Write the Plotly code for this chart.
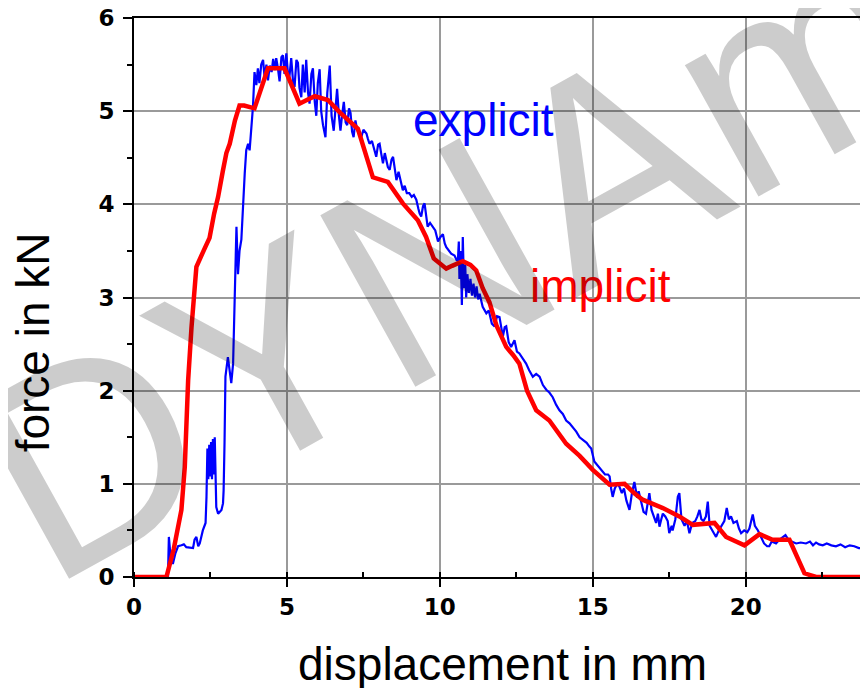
import plotly.graph_objects as go

# explicit (blue) curve: displacement [mm], force [kN]
explicit_x = [1.11, 1.14, 1.20, 1.27, 1.35, 1.44, 1.55, 1.63, 1.71, 1.85, 1.93, 1.98, 2.04, 2.10, 2.15, 2.25, 2.34, 2.37,
              2.40, 2.43, 2.46, 2.49, 2.52, 2.55, 2.58, 2.61, 2.64, 2.67, 2.69, 2.75, 2.80, 2.86, 2.91, 2.93, 2.96, 2.99,
              3.07, 3.12, 3.18, 3.24, 3.29, 3.33, 3.35, 3.40, 3.45, 3.51, 3.56, 3.62, 3.67, 3.73, 3.78, 3.84, 3.89, 3.94,
              4.00, 4.05, 4.10, 4.16, 4.22, 4.27, 4.33, 4.38, 4.44, 4.50, 4.55, 4.60, 4.65, 4.71, 4.76, 4.82, 4.87, 4.92,
              4.98, 5.03, 5.07, 5.14, 5.20, 5.25, 5.31, 5.36, 5.41, 5.47, 5.52, 5.58, 5.63, 5.69, 5.74, 5.80, 5.85, 5.91,
              5.96, 6.01, 6.07, 6.12, 6.18, 6.26, 6.32, 6.40, 6.46, 6.53, 6.58, 6.64, 6.70, 6.75, 6.80, 6.86, 6.92, 6.97,
              7.03, 7.08, 7.13, 7.18, 7.24, 7.29, 7.36, 7.43, 7.50, 7.60, 7.65, 7.70, 7.78, 7.85, 7.92, 7.98, 8.03, 8.08,
              8.14, 8.20, 8.25, 8.30, 8.36, 8.42, 8.47, 8.52, 8.58, 8.65, 8.72, 8.79, 8.85, 8.92, 9.00, 9.08, 9.15, 9.23,
              9.30, 9.34, 9.39, 9.45, 9.50, 9.55, 9.60, 9.68, 9.77, 9.85, 9.94, 10.02, 10.10, 10.16, 10.21, 10.30, 10.37,
              10.48, 10.55, 10.59, 10.62, 10.64, 10.68, 10.72, 10.75, 10.79, 10.83, 10.86, 10.90, 10.95, 11.00, 11.05,
              11.10, 11.15, 11.20, 11.25, 11.30, 11.40, 11.52, 11.60, 11.70, 11.79, 11.87, 11.95, 12.06, 12.12, 12.17,
              12.25, 12.33, 12.44, 12.52, 12.60, 12.70, 12.82, 12.92, 13.04, 13.15, 13.26, 13.37, 13.48, 13.58, 13.69,
              13.80, 13.91, 14.02, 14.13, 14.24, 14.35, 14.46, 14.57, 14.70, 14.80, 14.89, 14.95, 15.05, 15.15, 15.27,
              15.40, 15.50, 15.55, 15.60, 15.65, 15.72, 15.80, 15.87, 15.95, 16.02, 16.10, 16.20, 16.28, 16.36, 16.45,
              16.50, 16.58, 16.66, 16.74, 16.80, 16.85, 16.92, 17.00, 17.07, 17.13, 17.18, 17.24, 17.29, 17.37, 17.45,
              17.50, 17.58, 17.61, 17.70, 17.78, 17.83, 17.90, 18.00, 18.08, 18.16, 18.25, 18.35, 18.42, 18.49, 18.55,
              18.62, 18.70, 18.76, 18.82, 18.90, 18.96, 19.03, 19.12, 19.20, 19.30, 19.38, 19.45, 19.52, 19.60, 19.71,
              19.78, 19.85, 19.95, 20.05, 20.12, 20.23, 20.30, 20.40, 20.50, 20.60, 20.70, 20.77, 20.85, 20.99, 21.10,
              21.21, 21.30, 21.40, 21.50, 21.65, 21.80, 21.97, 22.10, 22.20, 22.30, 22.40, 22.52, 22.65, 22.80, 22.95,
              23.10, 23.25, 23.40, 23.55, 23.70, 23.82, 23.95, 24.10, 24.30]
explicit_y = [0.00, 0.43, 0.20, 0.14, 0.25, 0.33, 0.34, 0.35, 0.32, 0.31, 0.31, 0.40, 0.43, 0.33, 0.36, 0.50, 0.58, 0.86,
              1.38, 1.05, 1.42, 1.08, 1.45, 1.05, 1.48, 1.10, 1.50, 1.05, 0.75, 0.68, 0.70, 0.72, 0.79, 0.93, 1.44, 2.15,
              2.36, 2.25, 2.08, 2.29, 2.90, 3.40, 3.76, 3.25, 3.50, 3.62, 4.01, 4.33, 4.58, 4.65, 4.58, 4.80, 5.05, 5.42,
              5.28, 5.46, 5.30, 5.50, 5.55, 5.36, 5.50, 5.33, 5.49, 5.42, 5.56, 5.44, 5.57, 5.45, 5.32, 5.58, 5.60, 5.40,
              5.62, 5.42, 5.33, 5.57, 5.32, 5.26, 5.55, 5.52, 5.25, 5.15, 5.50, 5.20, 5.55, 5.20, 5.08, 5.40, 5.46, 5.10,
              4.95, 5.30, 5.45, 5.00, 4.85, 4.72, 5.20, 5.49, 4.95, 4.79, 5.00, 5.24, 4.95, 4.79, 4.95, 5.10, 4.88, 4.85,
              5.03, 4.98, 4.78, 4.72, 4.90, 4.81, 4.75, 4.72, 4.80, 4.76, 4.70, 4.65, 4.68, 4.60, 4.51, 4.64, 4.65, 4.55,
              4.44, 4.55, 4.48, 4.40, 4.37, 4.48, 4.51, 4.38, 4.26, 4.35, 4.25, 4.15, 4.20, 4.12, 4.12, 4.08, 4.10, 4.05,
              3.95, 3.90, 3.87, 3.98, 4.01, 3.85, 3.76, 3.80, 3.76, 3.72, 3.60, 3.65, 3.68, 3.58, 3.54, 3.50, 3.47,
              3.45, 3.40, 3.40, 3.60, 3.20, 3.50, 2.92, 3.65, 3.10, 3.35, 3.00, 3.25, 3.05, 3.20, 3.02,
              3.15, 3.00, 3.12, 2.98, 3.04, 2.90, 2.83, 2.86, 2.72, 2.69, 2.80, 2.79, 2.58, 2.68, 2.69,
              2.52, 2.47, 2.54, 2.42, 2.40, 2.35, 2.29, 2.22, 2.15, 2.18, 2.15, 2.06, 2.01, 1.98, 1.93,
              1.85, 1.79, 1.75, 1.68, 1.65, 1.61, 1.56, 1.50, 1.46, 1.44, 1.40, 1.38, 1.24, 1.20, 1.15,
              1.10, 1.10, 1.08, 0.95, 0.86, 0.95, 1.00, 0.97, 0.90, 0.95, 0.82, 0.72, 0.90, 1.02, 0.85,
              0.92, 0.79, 0.70, 0.68, 0.80, 0.90, 0.72, 0.65, 0.58, 0.68, 0.54, 0.62, 0.68, 0.65, 0.60,
              0.47, 0.55, 0.50, 0.62, 0.86, 0.90, 0.62, 0.55, 0.60, 0.47, 0.58, 0.60, 0.65, 0.72, 0.62,
              0.60, 0.65, 0.81, 0.55, 0.50, 0.47, 0.43, 0.50, 0.55, 0.60, 0.74, 0.62, 0.65, 0.58, 0.60,
              0.52, 0.47, 0.50, 0.48, 0.52, 0.67, 0.55, 0.50, 0.42, 0.36, 0.33, 0.33, 0.38, 0.36, 0.40,
              0.43, 0.45, 0.40, 0.38, 0.36, 0.37, 0.36, 0.38, 0.34, 0.37, 0.35, 0.34, 0.36, 0.34, 0.33,
              0.35, 0.32, 0.34, 0.33, 0.31, 0.31, 0.28, 0.29, 0.30]

# implicit (red) curve
implicit_x = [0.00, 1.06, 1.30, 1.55, 1.66, 1.77, 1.88, 1.98, 2.04, 2.30, 2.47, 2.62, 2.75, 2.90, 3.02, 3.13, 3.30, 3.45,
              3.60, 3.94, 4.15, 4.38, 4.92, 5.41, 5.65, 5.91, 6.34, 6.72, 7.32, 7.55, 7.81, 8.30, 8.79, 9.28, 9.55, 9.80,
              10.21, 10.40, 10.75, 11.00, 11.19, 11.40, 11.62, 11.85, 12.17, 12.40, 12.60, 12.85, 13.15, 13.58, 13.85,
              14.13, 14.57, 15.00, 15.55, 16.04, 16.35, 16.63, 17.29, 17.83, 18.27, 18.98, 19.36, 19.96, 20.45, 20.88,
              21.43, 21.70, 21.92, 22.30, 24.30]
implicit_y = [0.00, 0.00, 0.30, 0.72, 1.18, 2.11, 2.68, 3.15, 3.33, 3.52, 3.64, 3.90, 4.08, 4.35, 4.55, 4.65, 4.90, 5.06,
              5.06, 5.03, 5.25, 5.46, 5.46, 5.08, 5.12, 5.16, 5.12, 4.99, 4.81, 4.55, 4.29, 4.24, 4.01, 3.83, 3.65, 3.42,
              3.31, 3.34, 3.39, 3.35, 3.29, 3.10, 2.95, 2.70, 2.47, 2.38, 2.29, 2.00, 1.79, 1.68, 1.55,
              1.43, 1.30, 1.15, 0.99, 1.00, 0.90, 0.83, 0.74, 0.65, 0.56, 0.58, 0.43, 0.34, 0.46, 0.40,
              0.40, 0.20, 0.04, 0.00, 0.00]

x_ticks = [0, 5, 10, 15, 20]
y_ticks = [0, 1, 2, 3, 4, 5, 6]

fig = go.Figure()
fig.add_trace(go.Scatter(x=explicit_x, y=explicit_y, mode="lines",
                         line=dict(color="#0000ff", width=2.2), name="explicit"))
fig.add_trace(go.Scatter(x=implicit_x, y=implicit_y, mode="lines",
                         line=dict(color="#ff0000", width=4.5), name="implicit"))

tickfont = dict(family="DejaVu Sans", size=23, color="black", weight="bold")
fig.update_layout(
    width=868, height=688,
    margin=dict(l=126, r=0, t=10, b=119, autoexpand=False),
    paper_bgcolor="white", plot_bgcolor="white",
    showlegend=False,
    xaxis=dict(range=[0, 24.26], tickvals=x_ticks, ticks="outside", ticklen=8, tickwidth=1.5, tickcolor="black",
               showgrid=True, gridcolor="#9a9a9a", gridwidth=1.5, zeroline=False,
               showline=True, linecolor="black", linewidth=2, mirror=True,
               tickfont=tickfont, automargin=False, ticklabeloverflow="allow",
               minor=dict(dtick=2.5, ticks="inside", ticklen=5, tickwidth=1.5, tickcolor="black", showgrid=False)),
    yaxis=dict(range=[0, 6], tickvals=y_ticks, ticks="outside", ticklen=9, tickwidth=1.5, tickcolor="black",
               showgrid=True, gridcolor="#9a9a9a", gridwidth=1.5, zeroline=False,
               showline=True, linecolor="black", linewidth=2, mirror=True,
               tickfont=tickfont, automargin=False, ticklabelstandoff=4, ticklabeloverflow="allow",
               minor=dict(dtick=0.5, ticks="outside", ticklen=5, tickwidth=1.5, tickcolor="black", showgrid=False)),
)

lab = "Liberation Sans, Arial, sans-serif"
fig.add_annotation(x=9.07, y=4.91, xref="x", yref="y", text="explicit", showarrow=False,
                   xanchor="left", yanchor="middle", font=dict(family=lab, size=46, color="#0000ff"))
fig.add_annotation(x=12.87, y=3.12, xref="x", yref="y", text="implicit", showarrow=False,
                   xanchor="left", yanchor="middle", font=dict(family=lab, size=46, color="#ff0000"))
fig.add_annotation(x=0.497, y=-0.156, xref="paper", yref="paper", text="displacement in mm", showarrow=False,
                   xanchor="center", yanchor="middle", font=dict(family=lab, size=46, color="black"))
fig.add_annotation(x=-0.136, y=0.42, xref="paper", yref="paper", text="force in kN", showarrow=False,
                   textangle=-90, xanchor="center", yanchor="middle", font=dict(family=lab, size=46, color="black"))
# watermark
fig.add_annotation(x=10.35, y=3.47, xref="x", yref="y", text="DYNAm", showarrow=False, textangle=-29,
                   xanchor="center", yanchor="middle",
                   font=dict(family=lab, size=285, color="rgba(0,0,0,0.2)"))

fig.write_html("out.html")
